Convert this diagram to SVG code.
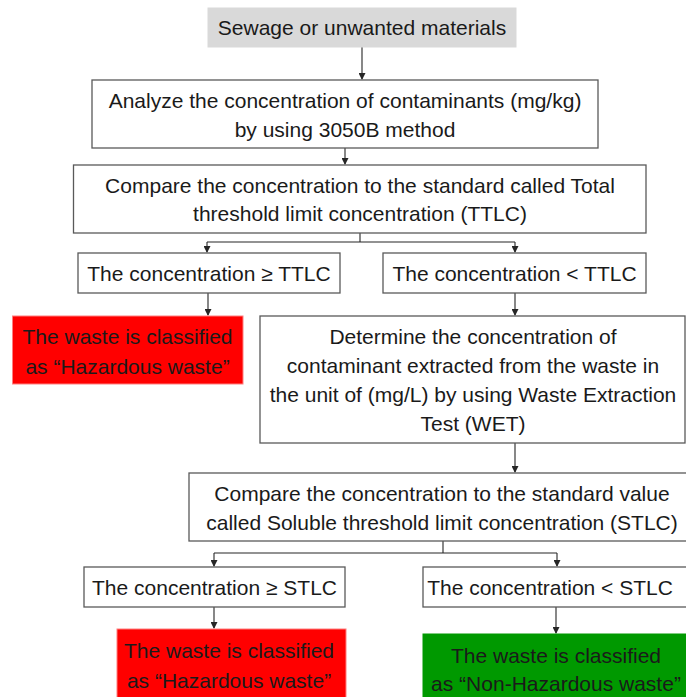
<svg xmlns="http://www.w3.org/2000/svg" width="686" height="697" viewBox="0 0 686 697">
<defs>
<style>
.box{fill:#ffffff;stroke:#595959;stroke-width:1.3}
.gray{fill:#d9d9d9;stroke:#d9d9d9;stroke-width:1}
.red{fill:#ff0000;stroke:#ff7f7f;stroke-width:1}
.green{fill:#009900;stroke:#009900;stroke-width:1}
text{font-family:"Liberation Sans",Arial,sans-serif;font-size:21px;fill:#1a1a1a;text-anchor:middle}
.conn{stroke:#262626;stroke-width:1.1;fill:none}
</style>
<marker id="arr" markerWidth="7" markerHeight="7" refX="6" refY="3.5" orient="auto" markerUnits="userSpaceOnUse">
<path d="M0,0 L7,3.5 L0,7 z" fill="#262626"/>
</marker>
</defs>
<rect width="686" height="697" fill="#ffffff"/>
<g id="connectors">
<path class="conn" d="M362,47 V79" marker-end="url(#arr)"/>
<path class="conn" d="M345,148 V164" marker-end="url(#arr)"/>
<path class="conn" d="M360,233 V242"/>
<path class="conn" d="M207,242 H515"/>
<path class="conn" d="M207,242 V252" marker-end="url(#arr)"/>
<path class="conn" d="M515,242 V252" marker-end="url(#arr)"/>
<path class="conn" d="M208,293 V315" marker-end="url(#arr)"/>
<path class="conn" d="M515,293 V315" marker-end="url(#arr)"/>
<path class="conn" d="M515,443 V472" marker-end="url(#arr)"/>
<path class="conn" d="M443,541 V553"/>
<path class="conn" d="M214,553 H557"/>
<path class="conn" d="M214,553 V566" marker-end="url(#arr)"/>
<path class="conn" d="M557,553 V566" marker-end="url(#arr)"/>
<path class="conn" d="M214,607 V628" marker-end="url(#arr)"/>
<path class="conn" d="M556,607 V633" marker-end="url(#arr)"/>
</g>
<g id="n1">
<rect class="gray" x="208" y="8" width="308" height="39"/>
<text x="362" y="35">Sewage or unwanted materials</text>
</g>
<g id="n2">
<rect class="box" x="92" y="80" width="506" height="68"/>
<text x="345" y="108">Analyze the concentration of contaminants (mg/kg)</text>
<text x="345" y="137">by using 3050B method</text>
</g>
<g id="n3">
<rect class="box" x="73.5" y="165" width="572.5" height="68"/>
<text x="360" y="193">Compare the concentration to the standard called Total</text>
<text x="360" y="221">threshold limit concentration (TTLC)</text>
</g>
<g id="n4">
<rect class="box" x="78" y="253" width="262" height="40"/>
<text x="209" y="281">The concentration ≥ TTLC</text>
</g>
<g id="n5">
<rect class="box" x="383" y="253" width="263" height="40"/>
<text x="514.5" y="281">The concentration &lt; TTLC</text>
</g>
<g id="n6">
<rect class="red" x="12.5" y="316" width="230.5" height="68"/>
<text x="127.5" y="344">The waste is classified</text>
<text x="127.5" y="374">as “Hazardous waste”</text>
</g>
<g id="n7">
<rect class="box" x="260" y="316" width="425" height="127"/>
<text x="473" y="344">Determine the concentration of</text>
<text x="473" y="373">contaminant extracted from the waste in</text>
<text x="473" y="402">the unit of (mg/L) by using Waste Extraction</text>
<text x="473" y="431">Test (WET)</text>
</g>
<g id="n8">
<rect class="box" x="189" y="473" width="506" height="68"/>
<text x="442" y="501">Compare the concentration to the standard value</text>
<text x="442" y="530">called Soluble threshold limit concentration (STLC)</text>
</g>
<g id="n9">
<rect class="box" x="84" y="567" width="261" height="40"/>
<text x="214.5" y="595">The concentration ≥ STLC</text>
</g>
<g id="n10">
<rect class="box" x="423" y="567" width="270" height="40"/>
<text x="550" y="595">The concentration &lt; STLC</text>
</g>
<g id="n11">
<rect class="red" x="117" y="629" width="229" height="75"/>
<text x="229" y="658">The waste is classified</text>
<text x="229" y="688">as “Hazardous waste”</text>
</g>
<g id="n12">
<rect class="green" x="423" y="634" width="270" height="75"/>
<text x="556" y="663">The waste is classified</text>
<text x="556" y="691">as “Non-Hazardous waste”</text>
</g>
</svg>
